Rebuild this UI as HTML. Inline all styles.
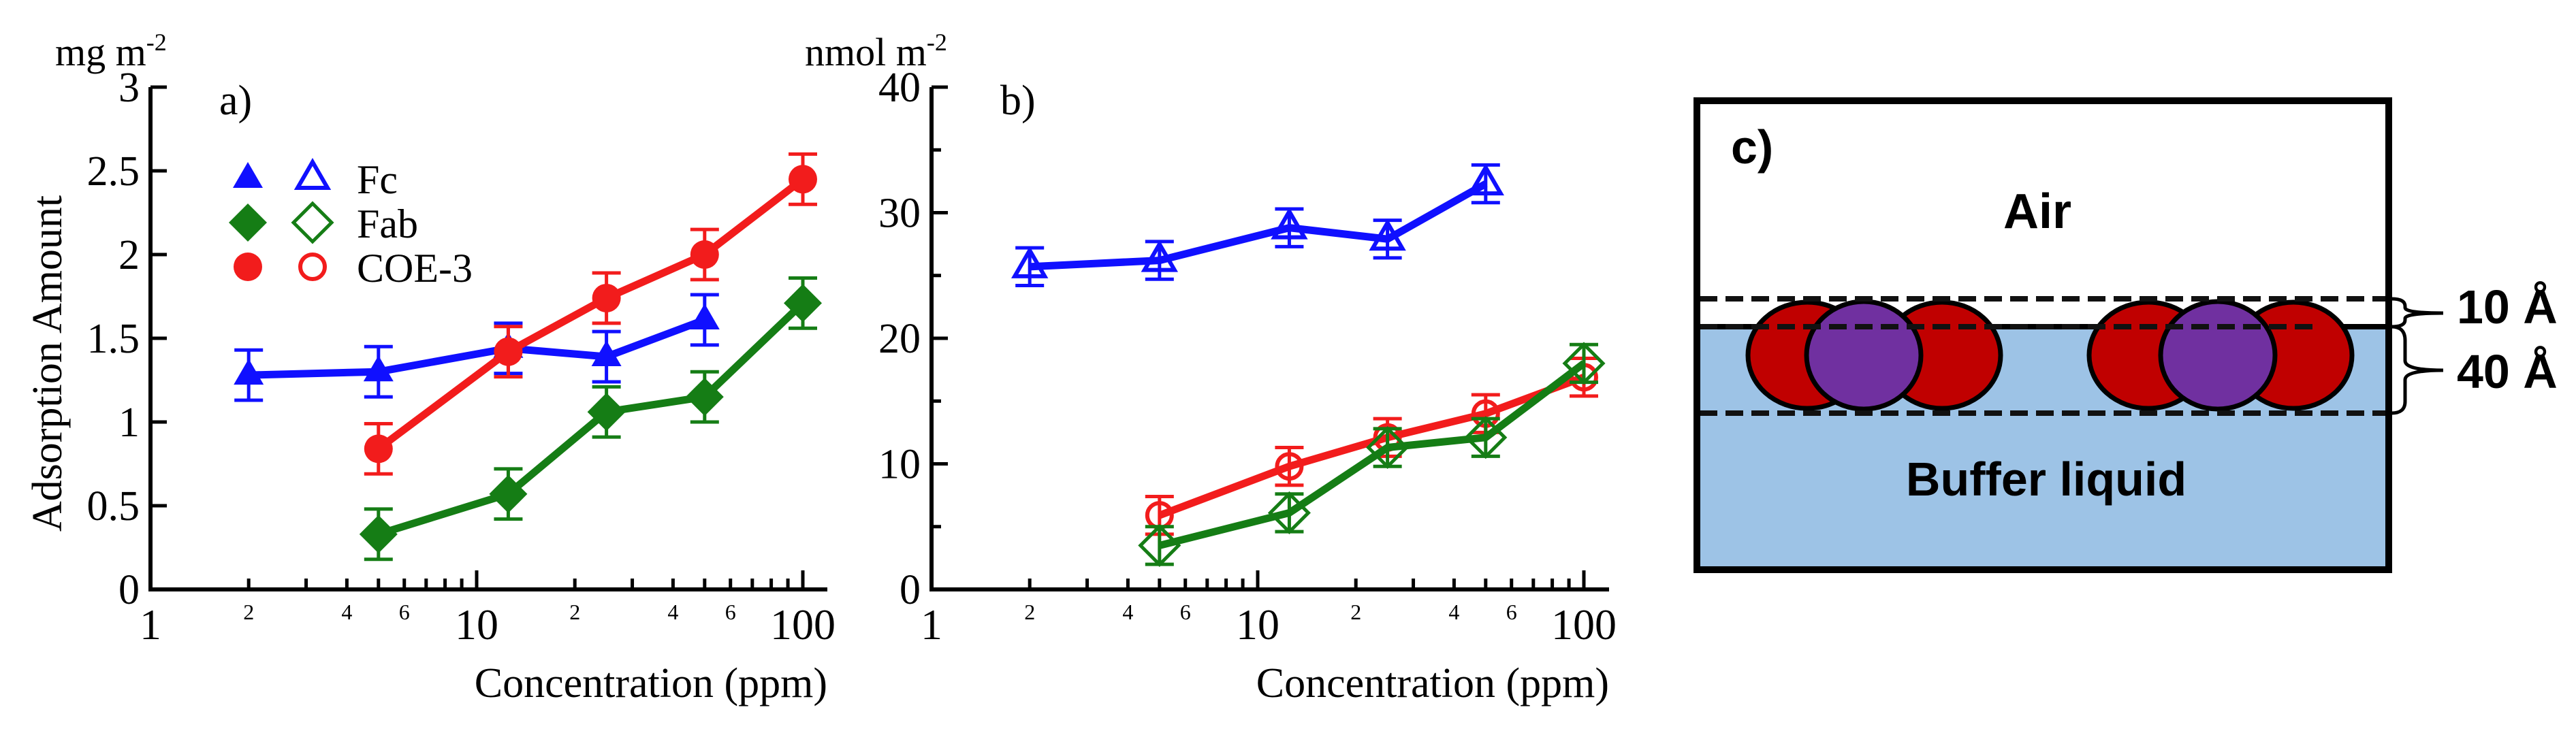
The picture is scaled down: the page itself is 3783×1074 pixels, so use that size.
<!DOCTYPE html>
<html><head><meta charset="utf-8"><style>
html,body{margin:0;padding:0;background:#fff}
svg{display:block}
.serif{font-family:"Liberation Serif",serif}
.sans{font-family:"Liberation Sans",sans-serif;font-weight:bold}
</style></head><body>
<svg id="fig" width="3783" height="1074" viewBox="0 0 3783 1074" xmlns="http://www.w3.org/2000/svg">
<g id="pa"></g>
<g id="pb"></g>
<g id="pc">
  <rect x="2492" y="148" width="1016" height="332" fill="#fff"/>
  <rect x="2492" y="480" width="1016" height="357" fill="#9dc3e6"/>
  <line x1="2492" y1="480" x2="3508" y2="480" stroke="#000" stroke-width="8"/>
  <g stroke="#000" stroke-width="7">
    <ellipse cx="2654" cy="522" rx="87" ry="78" fill="#c00000"/>
    <ellipse cx="2852" cy="522" rx="86" ry="78" fill="#c00000"/>
    <ellipse cx="2737" cy="522" rx="84" ry="79" fill="#7030a0"/>
  </g>
  <g stroke="#000" stroke-width="7">
    <ellipse cx="3155" cy="522" rx="87" ry="78" fill="#c00000"/>
    <ellipse cx="3368" cy="522" rx="86" ry="78" fill="#c00000"/>
    <ellipse cx="3257" cy="522" rx="84" ry="79" fill="#7030a0"/>
  </g>
  <g stroke="#111" stroke-width="8" stroke-dasharray="26 12">
    <line x1="2496" y1="439" x2="3506" y2="439"/>
    <line x1="2496" y1="480" x2="3400" y2="480"/>
    <line x1="2496" y1="607" x2="3506" y2="607"/>
  </g>
  <rect x="2492" y="148" width="1016" height="689" fill="none" stroke="#000" stroke-width="10"/>
  <text x="2542" y="240" class="sans" font-size="70">c)</text>
  <text x="2992" y="335" class="sans" font-size="72" text-anchor="middle">Air</text>
  <text x="3005" y="728" class="sans" font-size="70" text-anchor="middle">Buffer liquid</text>
  <path d="M3512,439 Q3532,439 3532,450 L3532,452 Q3532,460 3588,460 Q3532,460 3532,468 L3532,470 Q3532,480 3512,480" fill="none" stroke="#000" stroke-width="5"/>
  <path d="M3512,480 Q3532,480 3532,500 L3532,530 Q3532,544 3588,544 Q3532,544 3532,558 L3532,590 Q3532,607 3512,607" fill="none" stroke="#000" stroke-width="5"/>
  <text x="3608" y="475" class="sans" font-size="70">10 Å</text>
  <text x="3608" y="570" class="sans" font-size="70">40 Å</text>
</g>
</svg>
<script>
const concentrations = [2, 5, 12.5, 25, 50, 100];
const aFc = [1.28, 1.30, 1.44, 1.39, 1.61, null];
const aFab = [null, 0.33, 0.57, 1.06, 1.15, 1.71];
const aCOE = [null, 0.84, 1.42, 1.74, 2.00, 2.45];
const aErr = [0.15, 0.15, 0.15, 0.15, 0.15, 0.15];
const bFc = [25.7, 26.2, 28.8, 27.9, 32.3, null];
const bFab = [null, 3.5, 6.1, 11.3, 12.1, 18.0];
const bCOE = [null, 5.9, 9.8, 12.1, 14.0, 16.9];
const bErr = [1.5, 1.5, 1.5, 1.5, 1.5, 1.5];
const aYTicks = ["0", "0.5", "1", "1.5", "2", "2.5", "3"];
const bYTicks = ["0", "10", "20", "30", "40"];
const xMajor = ["1", "10", "100"];
const xMinorLabels = ["2", "4", "6"];

const NS = "http://www.w3.org/2000/svg";
const BLUE = "#1010ff", GREEN = "#157d15", RED = "#f21c1c";
function mk(parent, tag, attrs, text) {
  const e = document.createElementNS(NS, tag);
  for (const k in attrs) e.setAttribute(k, attrs[k]);
  if (text !== undefined) e.textContent = text;
  parent.appendChild(e);
  return e;
}

function panel(g, cfg) {
  const x0 = cfg.x0, dec = 479, yTop = 128, yBot = 866;
  const xs = v => x0 + Math.log10(v) * dec;
  const ys = v => yBot - (v / cfg.ymax) * (yBot - yTop);
  const ax = mk(g, "path", {d: `M${x0},${yTop} L${x0},${yBot} L${cfg.xEnd},${yBot}`, fill: "none", stroke: "#000", "stroke-width": 6});
  
  
  cfg.yTicks.forEach(t => {
    const v = parseFloat(t), y = ys(v);
    const tk = mk(g, "line", {x1: x0, y1: y, x2: x0 + 24, y2: y, stroke: "#000", "stroke-width": 5});
    
    
    const lb = mk(g, "text", {x: x0 - 16, y: y + 21, "text-anchor": "end", "font-size": 62, class: "serif"}, t);
    
    
  });
  if (cfg.yMinor) {
    for (let i = 0; i + 1 < cfg.yTicks.length; i++) {
      const v = (parseFloat(cfg.yTicks[i]) + parseFloat(cfg.yTicks[i + 1])) / 2, y = ys(v);
      const tk = mk(g, "line", {x1: x0, y1: y, x2: x0 + 14, y2: y, stroke: "#000", "stroke-width": 5});
      
      
    }
  }
  for (let d = 0; d < 2; d++) {
    for (let m = 1; m <= 9; m++) {
      const v = Math.pow(10, d) * m, x = xs(v);
      const len = m === 1 ? 28 : 16;
      if (!(d === 0 && m === 1)) {
        const tk = mk(g, "line", {x1: x, y1: yBot, x2: x, y2: yBot - len, stroke: "#000", "stroke-width": 5});
        
        
      }
      if (xMinorLabels.includes(String(m))) {
        const lb = mk(g, "text", {x: x, y: yBot + 44, "text-anchor": "middle", "font-size": 32, class: "serif"}, String(m));
        
        
      }
    }
  }
  const tk100 = mk(g, "line", {x1: xs(100), y1: yBot, x2: xs(100), y2: yBot - 28, stroke: "#000", "stroke-width": 5});
  
  
  xMajor.forEach(t => {
    const lb = mk(g, "text", {x: xs(parseFloat(t)), y: yBot + 73, "text-anchor": "middle", "font-size": 64, class: "serif"}, t);
    
    
  });
  const xt = mk(g, "text", {x: cfg.xEnd, y: 1024, "text-anchor": "end", "font-size": 62, class: "serif"}, "Concentration (ppm)");
  
  
  const unit = mk(g, "text", {x: cfg.unitX, y: 96, "font-size": 58, class: "serif"}, cfg.unit);
  
  
  mk(unit, "tspan", {dy: -22, "font-size": 36}, "-2");
  const pl = mk(g, "text", {x: cfg.labelX, y: 168, "font-size": 62, class: "serif"}, cfg.label);
  
  

  cfg.series.forEach(s => {
    const sg = mk(g, "g", {});
    
    
    const pts = [];
    s.vals.forEach((v, i) => { if (v !== null) pts.push([xs(concentrations[i]), ys(v), ys(v + cfg.err[i]), ys(v - cfg.err[i])]); });
    const ln = mk(sg, "polyline", {points: pts.map(p => p[0] + "," + p[1]).join(" "), fill: "none", stroke: s.color, "stroke-width": 11, "stroke-linejoin": "round"});
    
    
    pts.forEach(p => {
      const eb = mk(sg, "path", {d: `M${p[0]},${p[2]} L${p[0]},${p[3]} M${p[0]-21},${p[2]} L${p[0]+21},${p[2]} M${p[0]-21},${p[3]} L${p[0]+21},${p[3]}`, stroke: s.color, "stroke-width": 5, fill: "none"});
      
      
      const mkr = marker(sg, s.shape, p[0], p[1], s.color, cfg.open);
      
      
    });
  });
}
function marker(g, shape, x, y, c, open) {
  const st = open ? {fill: "none", stroke: c, "stroke-width": 6} : {fill: c, stroke: "none"};
  if (shape === "tri") return mk(g, "path", Object.assign({d: `M${x},${y-24} L${x+22},${y+14} L${x-22},${y+14} Z`}, st));
  if (shape === "dia") return mk(g, "path", Object.assign({d: `M${x},${y-28} L${x+28},${y} L${x},${y+28} L${x-28},${y} Z`}, open ? Object.assign({}, st, {"stroke-width": 5}) : st));
  return mk(g, "circle", Object.assign({cx: x, cy: y, r: open ? 18 : 21}, st));
}

const pa = document.getElementById("pa");
panel(pa, {x0: 221, xEnd: 1215, ymax: 3, yTicks: aYTicks, yMinor: false, err: aErr, open: false,
  unit: "mg m", unitX: 81, label: "a)", labelX: 322,
  series: [{name: "fc", vals: aFc, color: BLUE, shape: "tri"}, {name: "coe3", vals: aCOE, color: RED, shape: "cir"}, {name: "fab", vals: aFab, color: GREEN, shape: "dia"}]});
const pb = document.getElementById("pb");
panel(pb, {x0: 1368, xEnd: 2363, ymax: 40, yTicks: bYTicks, yMinor: true, err: bErr, open: true,
  unit: "nmol m", unitX: 1182, label: "b)", labelX: 1469,
  series: [{name: "fc", vals: bFc, color: BLUE, shape: "tri"}, {name: "coe3", vals: bCOE, color: RED, shape: "cir"}, {name: "fab", vals: bFab, color: GREEN, shape: "dia"}]});

const yt = mk(pa, "text", {x: 0, y: 0, transform: "translate(90,534) rotate(-90)", "text-anchor": "middle", "font-size": 62, class: "serif"}, "Adsorption Amount");


const lg = mk(pa, "g", {});


const legNames = ["Fc", "Fab", "COE-3"];
const legShapes = ["tri", "dia", "cir"];
const legColors = [BLUE, GREEN, RED];
const legY = [262, 327, 392];
legNames.forEach((n, i) => {
  const e = mk(lg, "g", {});
  
  
  marker(e, legShapes[i], 364, legY[i], legColors[i], false);
  marker(e, legShapes[i], 459, legY[i], legColors[i], true);
  mk(e, "text", {x: 524, y: legY[i] + 22, "font-size": 60, class: "serif"}, n);
});
</script>
</body></html>
